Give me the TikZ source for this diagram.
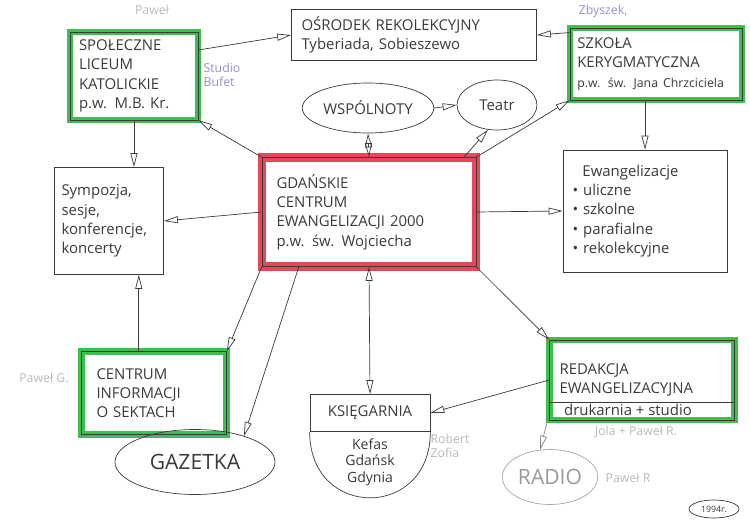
\documentclass[tikz,border=0pt]{standalone}
\usepackage{fontspec}
\setmainfont{Open Sans}
\usetikzlibrary{arrows.meta,shapes.geometric}
\definecolor{ink}{HTML}{3A3A3A}
\definecolor{grn}{HTML}{3CBF4C}
\definecolor{rd}{HTML}{E8475A}
\definecolor{lil}{HTML}{9A8FD0}
\begin{document}
\begin{tikzpicture}[x=0.02cm,y=-0.02cm,every node/.style={font=\fontsize{8.5}{11}\selectfont,text=ink,align=left},
 b/.style={draw=ink,thin,inner sep=4pt},
 gb/.style={b,preaction={draw=grn,line width=3.5pt}},
 rb/.style={b,preaction={draw=rd,line width=5pt}},
 el/.style={draw=ink,thin,ellipse,inner sep=1pt,align=center},
 nt/.style={font=\scriptsize,text=gray!55},
 >={Triangle[open,length=8pt,width=4pt]}]
\useasboundingbox (0,0) rectangle (750,520);
% boxes
\node[gb,minimum width=2.56cm,minimum height=1.76cm,text width=2.2cm] (slk) at (134,76) {SPOŁECZNE\\LICEUM\\KATOLICKIE\\p.w. M.B. Kr.};
\node[b,minimum width=4.9cm,minimum height=0.8cm,text width=4.5cm] (osr) at (414,35) {OŚRODEK REKOLEKCYJNY\\Tyberiada, Sobieszewo};
\node[gb,minimum width=3.44cm,minimum height=1.44cm,text width=3.15cm] (szk) at (656,64) {SZKOŁA\\KERYGMATYCZNA\\{\scriptsize p.w. św. Jana Chrzciciela}};
\node[el,minimum width=2.2cm,minimum height=1cm] (wsp) at (368,108) {WSPÓLNOTY};
\node[el,minimum width=1.6cm,minimum height=1cm] (teatr) at (497,105) {Teatr};
\node[rb,minimum width=4.28cm,minimum height=2.18cm,text width=3.7cm] (gce) at (369,212) {GDAŃSKIE\\CENTRUM\\EWANGELIZACJI 2000\\p.w. św. Wojciecha};
\node[b,minimum width=2.16cm,minimum height=2.14cm,text width=1.9cm] (symp) at (109,221) {Sympozja,\\sesje,\\konferencje,\\koncerty};
\node[b,minimum width=3.28cm,minimum height=2.44cm,text width=2.9cm] (ewa) at (645,211) {\ \ Ewangelizacje\\\textbullet\ uliczne\\\textbullet\ szkolne\\\textbullet\ parafialne\\\textbullet\ rekolekcyjne};
\node[gb,minimum width=2.9cm,minimum height=1.66cm,text width=2.3cm] (cis) at (154,393) {CENTRUM\\INFORMACJI\\O SEKTACH};
\node[b,minimum width=2.4cm,minimum height=0.74cm,align=center] (ksi) at (370,413) {KSIĘGARNIA};
\draw[ink,thin] (ksi.south west) .. controls +(0,88) and +(0,88) .. (ksi.south east);
\node[font=\footnotesize,align=center] (kef) at (370,462) {Kefas\\Gdańsk\\Gdynia};
\node[gb,minimum width=3.7cm,minimum height=1.6cm,text width=3.3cm] (red) at (642,380) {REDAKCJA\\EWANGELIZACYJNA\\[6pt]};
\node[inner sep=1pt] (drk) at (628,410) {drukarnia + studio};
\draw[ink,thin] (red.west |- drk.north) -- (red.east |- drk.north);
\node[el,minimum width=3.2cm,minimum height=1.3cm,font=\fontsize{12}{14}\selectfont] (gaz) at (195,462) {GAZETKA};
\node[el,draw=gray!70,text=gray!80,minimum width=1.9cm,minimum height=1.1cm,font=\fontsize{12}{14}\selectfont] (rad) at (550,477) {RADIO};
\node[el,minimum width=1cm,minimum height=0.36cm,font=\tiny] (yr) at (714,509) {1994r.};
% notes
\node[nt] (pw) at (152,10) {Paweł};
\node[nt,text=lil] (sb) at (222,75) {Studio\\Bufet};
\node[nt,text=lil] (zb) at (603,11) {Zbyszek,};
\node[nt] (pg) at (44,378) {Paweł G.};
\node[nt] (rz) at (450,446) {Robert\\Zofia};
\node[nt] (jp) at (636,432) {Jola + Paweł R.};
\node[nt] (pr) at (628,478) {Paweł R};
% arrows
\draw[->,ink] (slk.22) -- (osr.west);
\draw[->,ink] (szk.160) -- (osr.east);
\draw[->,ink] (gce.north west) -- (slk.south east);
\draw[->,ink] (gce.north east) -- (szk.south west);
\draw[<->,ink] (gce.north) -- (wsp.south);
\draw[->,ink] (wsp.east) -- (teatr.west);
\draw[->,ink] (gce.30) -- (teatr.250);
\draw[->,ink] (slk.south) -- (slk.south |- symp.north);
\draw[->,ink] (szk.south -| ewa.north) -- (ewa.north);
\draw[->,ink] (gce.west) -- (symp.east);
\draw[->,ink] (gce.east) -- (ewa.west);
\draw[->,ink] (cis.110) -- (cis.110 |- symp.south);
\draw[->,ink] (gce.south west) -- (cis.north east);
\draw[->,ink] (gce.218) -- (gaz.28);
\draw[<->,ink] (gce.south) -- (ksi.north);
\draw[->,ink] (gce.south east) -- (red.north west);
\draw[->,ink] (red.west) -- (ksi.east);
\draw[->,gray] (red.200) -- (rad.110);
\end{tikzpicture}
\end{document}
